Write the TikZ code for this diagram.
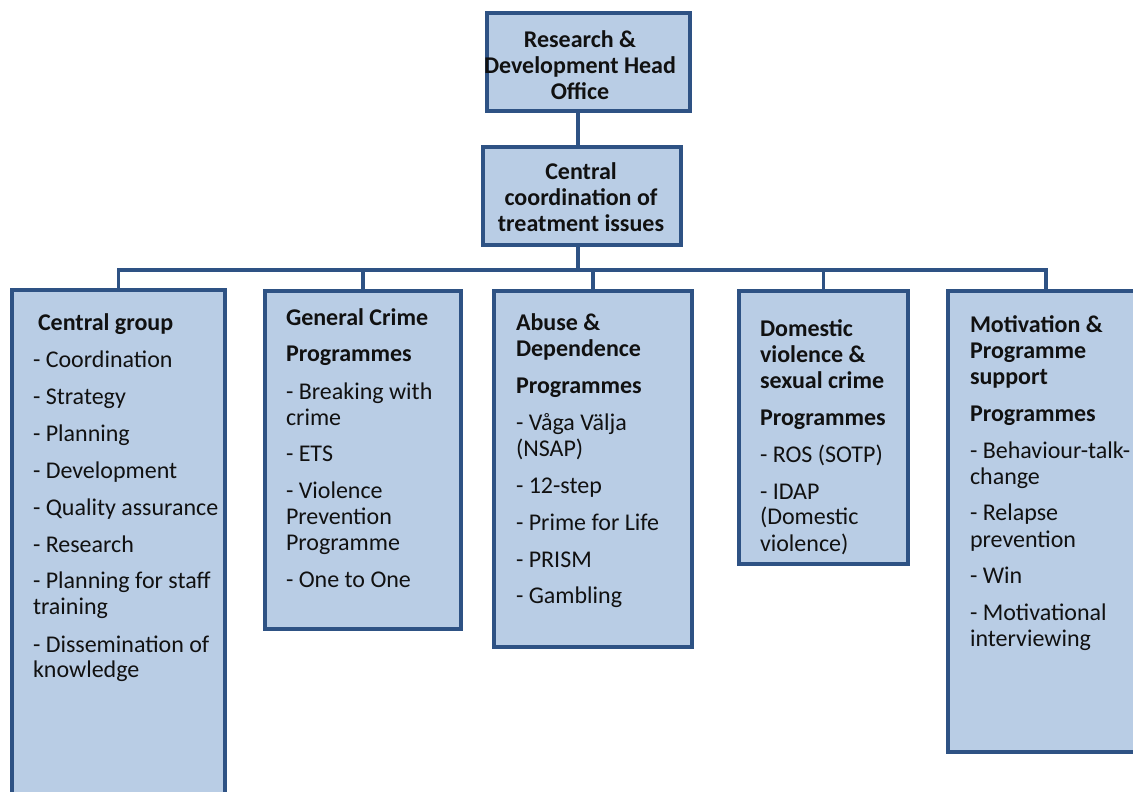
\documentclass[tikz,border=0pt]{standalone}
\usepackage{fontspec}
\setmainfont{Carlito}
\usetikzlibrary{fit}
\definecolor{bfill}{RGB}{185,205,229}
\definecolor{bdraw}{RGB}{46,82,132}
\definecolor{ink}{RGB}{17,17,17}
\newcommand{\coltext}[2]{\parbox[t]{#1}{\raggedright\setlength{\parindent}{0pt}\setlength{\parskip}{8.25pt}\fontsize{18pt}{19.5pt}\selectfont #2}}
\newcommand{\toptext}[1]{\parbox[t]{180pt}{\centering\bfseries\fontsize{18pt}{19.5pt}\selectfont #1}}
\begin{document}
\begin{tikzpicture}[x=0.75pt,y=-0.75pt,
  box/.style={draw=bdraw,fill=bfill,line width=2.4pt,inner sep=0pt,outer sep=0pt,rectangle},
  link/.style={draw=bdraw,line width=2.6pt},
  edge/.style={draw=bdraw,line width=2.4pt},
  txt/.style={anchor=base west,inner sep=0pt,outer sep=0pt,text=ink},
  ctxt/.style={anchor=base,inner sep=0pt,outer sep=0pt,text=ink}]
\fill[white] (0,0) rectangle (1133,792);
\useasboundingbox (0,0) rectangle (1133,792);
\coordinate (bus) at (0,270);
\coordinate (spine) at (578,0);
\coordinate (c5drop) at (1046,291);
% boxes
\node[box, fit={(487,13) (690,111)}] (top) {};
\node[box, fit={(483,147) (681,245)}] (mid) {};
\node[box, draw=none, fit={(12,290) (225,792)}] (c1) {};
\draw[edge] (c1.south west) -- (c1.north west) -- (c1.north east) -- (c1.south east);
\node[box, fit={(265,291) (461,629)}] (c2) {};
\node[box, fit={(494,291) (692,647)}] (c3) {};
\node[box, fit={(739,291) (908,564)}] (c4) {};
\node[box, draw=none, fit={(948,291) (1133,752)}] (c5) {};
\draw[edge] (c5.north east) -- (c5.north west) -- (c5.south west) -- (c5.south east);
% connectors
\draw[link] (top.south -| spine) -- (mid.north -| spine);
\draw[link] (mid.south -| spine) -- (spine |- bus);
\draw[link] (c1.north) -- (c1.north |- bus) -- (c5drop |- bus) -- (c5drop);
\draw[link] (c2.north) -- (c2.north |- bus);
\draw[link] (c3.north) -- (c3.north |- bus);
\draw[link] (c4.north) -- (c4.north |- bus);
% texts
\node[ctxt] (toptxt) at (580,48) {\toptext{Research \&\\Development Head\\Office}};
\node[ctxt] (midtxt) at (581,180) {\toptext{Central\\coordination of\\treatment issues}};
\node[txt] (t1) at (33,330) {\coltext{220pt}{\hspace*{3.75pt}\textbf{Central group}\par
- Coordination\par
- Strategy\par
- Planning\par
- Development\par
- Quality assurance\par
- Research\par
- Planning for staff\\training\par
- Dissemination of\\knowledge}};
\node[txt] (t2) at (286,325) {\coltext{220pt}{\textbf{General Crime}\par
\textbf{Programmes}\par
- Breaking with\\crime\par
- ETS\par
- Violence\\Prevention\\Programme\par
- One to One}};
\node[txt] (t3) at (516,330) {\coltext{220pt}{\textbf{Abuse \&\\Dependence}\par
\textbf{Programmes}\par
- Våga Välja\\(NSAP)\par
- 12-step\par
- Prime for Life\par
- PRISM\par
- Gambling}};
\node[txt] (t4) at (760,336) {\coltext{220pt}{\textbf{Domestic\\violence \&\\sexual crime}\par
\textbf{Programmes}\par
- ROS (SOTP)\par
- IDAP\\(Domestic\\violence)}};
\node[txt] (t5) at (970,332) {\coltext{160pt}{\textbf{Motivation \&\\Programme\\support}\par
\textbf{Programmes}\par
- Behaviour-talk-\\change\par
- Relapse\\prevention\par
- Win\par
- Motivational\\interviewing}};
\end{tikzpicture}
\end{document}
